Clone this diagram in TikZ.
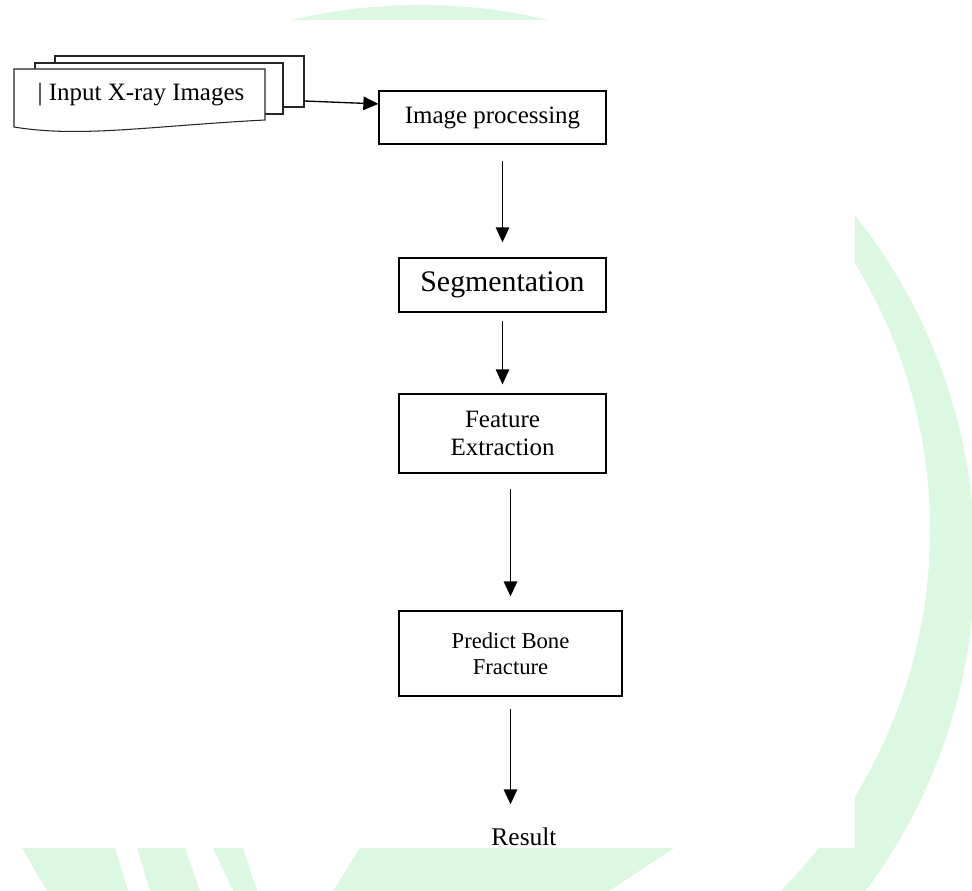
\documentclass[tikz,border=0pt]{standalone}
\usepackage{fontspec}
\setmainfont{Liberation Serif}
\usetikzlibrary{arrows.meta,calc}
\definecolor{wmgreen}{RGB}{220,248,225}

\begin{document}
\begin{tikzpicture}[x=0.02cm,y=-0.02cm,
  box/.style={draw,line width=0.75pt,inner sep=0pt,align=center},
  sheet/.style={draw=black!85,line width=0.6pt,fill=white},
  flow/.style={-{Triangle[length=0.3cm,width=0.27cm]},line width=0.75pt},
  txt/.style={font=\fontsize{14.2}{16.4}\selectfont}]
 \useasboundingbox (0,0) rectangle (972,891);
 % watermark behind the page
 \begin{scope}
  \clip (0,0) rectangle (972,848) (700,848) rectangle (972,891);
  \fill[wmgreen,even odd rule] (420,560) circle [radius=555]
   (420,530) circle [radius=510];
 \end{scope}
 \fill[wmgreen] (22,848) -- (115,848) -- (128,891) -- (47,891) -- cycle;
 \fill[wmgreen] (137,848) -- (185,848) -- (200,891) -- (150,891) -- cycle;
 \fill[wmgreen] (213,848) -- (243,848) -- (257,891) -- (233,891) -- cycle;
 \fill[wmgreen] (360,848) -- (674,848) -- (609,891) -- (333,891) -- cycle;
 \fill[white] (0,20) rectangle (855,848);
 % input stack
 \draw[sheet] (55,56) rectangle (304,107);
 \draw[sheet] (35,63) rectangle (283,114);
 \draw[sheet] (14,69) -- (265,69) -- (265,120) .. controls (150,126) and (80,138) .. (14,127) -- cycle;
 \node[txt] (docs) at (141,95) {| Input X-ray Images};
 \coordinate (docout) at (304,101);
 % steps
 \node[box,txt,minimum width=4.54cm,minimum height=1.06cm] (proc) at (492.5,117.5) {Image processing};
 \node[box,font=\fontsize{17}{20}\selectfont,minimum width=4.14cm,minimum height=1.08cm] (seg) at (502.5,285) {Segmentation};
 \node[box,txt,minimum width=4.14cm,minimum height=1.58cm] (feat) at (502.5,433.5) {Feature\\Extraction};
 \node[box,font=\fontsize{12.9}{14.7}\selectfont,minimum width=4.46cm,minimum height=1.7cm] (pred) at (510.5,653.5) {Predict Bone\\Fracture};
 \node[font=\fontsize{14.5}{17}\selectfont] (res) at (524,837) {Result};
 % arrows
 \draw[flow] (docout) -- ($(proc.north west)!0.25!(proc.south west)$);
 \draw[flow,shorten <=0.32cm,shorten >=0.3cm] (proc.south -| seg.north) -- (seg.north);
 \draw[flow,shorten <=0.16cm,shorten >=0.18cm] (seg) -- (feat);
 \draw[flow,shorten <=0.3cm,shorten >=0.28cm] (feat.south -| pred.north) -- (pred.north);
 \draw[flow,shorten <=0.24cm,shorten >=0.35cm] (pred.south) -- (pred.south |- res.north);
\end{tikzpicture}
\end{document}
